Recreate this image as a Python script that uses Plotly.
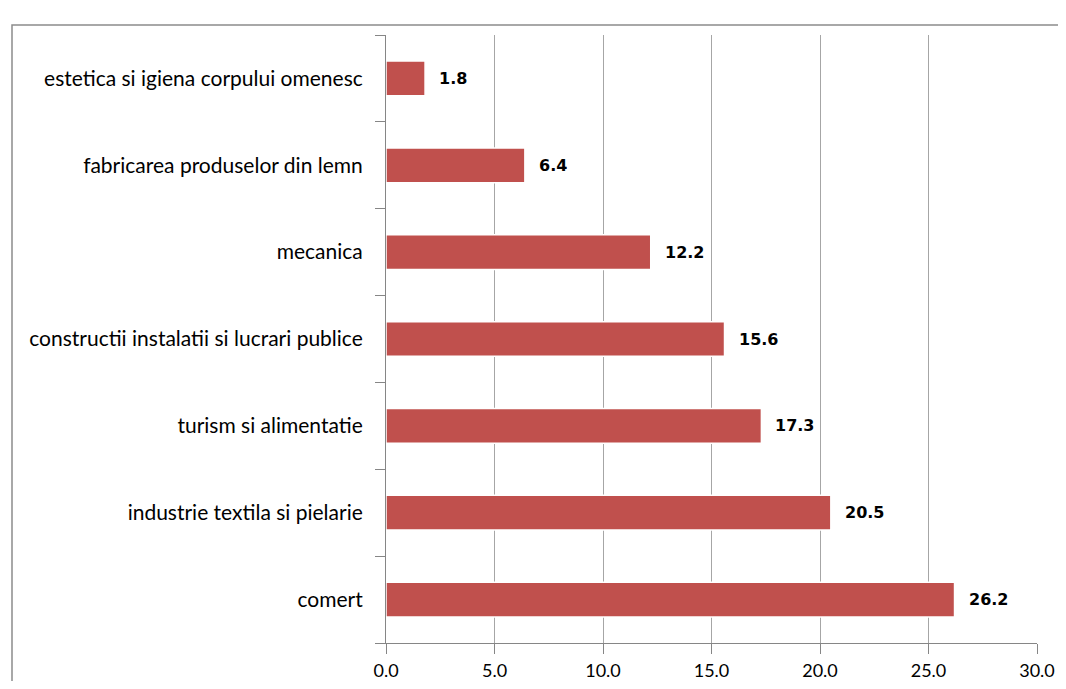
import plotly.graph_objects as go

categories = ["comert", "industrie textila si pielarie", "turism si alimentatie",
              "constructii instalatii si lucrari publice", "mecanica",
              "fabricarea produselor din lemn", "estetica si igiena corpului omenesc"]
values = [26.2, 20.5, 17.3, 15.6, 12.2, 6.4, 1.8]
labels = [f"{v:.1f}" for v in values]

OFF = 8  # page body margin
W, H = 1050, 673
L = 386 - OFF
T = 35 - OFF
R = OFF + W - 1037
B = OFF + H - 643
pw = W - L - R
ph = H - T - B

fig = go.Figure(go.Bar(
    x=values, y=categories, orientation="h",
    marker=dict(color="#C0504D", line=dict(color="#FFFFFF", width=1.5)),
    width=0.4,
    hoverinfo="x+y",
))

for v, c, t in zip(values, categories, labels):
    fig.add_annotation(x=v, y=c, text=t, xref="x", yref="y",
                       xanchor="left", yanchor="middle", xshift=12, showarrow=False,
                       font=dict(family="DejaVu Sans", size=16, color="#000000", weight="bold"))

fig.update_layout(
    width=W, height=H,
    margin=dict(l=L, r=R, t=T, b=B, autoexpand=False),
    paper_bgcolor="white", plot_bgcolor="white",
    showlegend=False,
    font=dict(family="Lato", size=21, color="#000000"),
    xaxis=dict(range=[0, 30], dtick=5, tickformat=".1f",
               showgrid=True, gridcolor="#A6A6A6", gridwidth=1,
               ticks="outside", ticklen=10, tickcolor="#868686",
               showline=True, linecolor="#868686", linewidth=1,
               zeroline=False, fixedrange=True,
               ticklabelstandoff=1,
               tickfont=dict(family="Lato", size=18)),
    yaxis=dict(categoryorder="array", categoryarray=categories,
               ticks="outside", ticklen=10, tickcolor="#868686",
               tickson="boundaries",
               showline=True, linecolor="#868686", linewidth=1,
               showgrid=False, fixedrange=True,
               ticklabelstandoff=18,
               tickfont=dict(family="Lato", size=21)),
    shapes=[dict(type="rect", xref="paper", yref="paper",
                 x0=(12 - OFF - L) / pw, x1=(W + 5 - L) / pw,
                 y0=-(B + 5) / ph, y1=1 + (T - (25 - OFF)) / ph,
                 line=dict(color="#8C8C8C", width=1.5), layer="below")],
)

fig.write_html("out.html")
